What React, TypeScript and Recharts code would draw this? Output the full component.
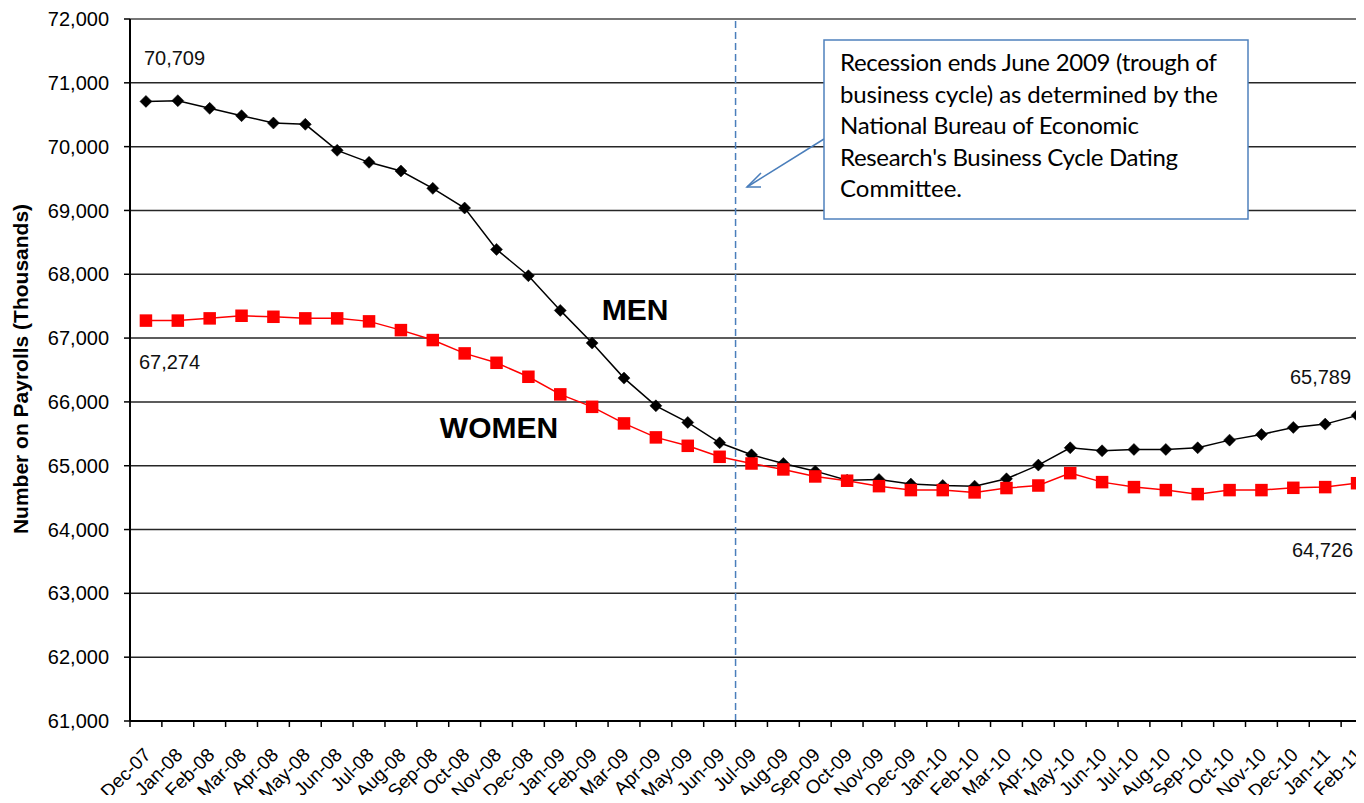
import React from 'react';
import { LineChart, Line, XAxis, YAxis, CartesianGrid, ReferenceLine, LabelList } from 'recharts';

const months = [
  'Dec-07','Jan-08','Feb-08','Mar-08','Apr-08','May-08','Jun-08','Jul-08','Aug-08','Sep-08','Oct-08','Nov-08',
  'Dec-08','Jan-09','Feb-09','Mar-09','Apr-09','May-09','Jun-09','Jul-09','Aug-09','Sep-09','Oct-09','Nov-09',
  'Dec-09','Jan-10','Feb-10','Mar-10','Apr-10','May-10','Jun-10','Jul-10','Aug-10','Sep-10','Oct-10','Nov-10',
  'Dec-10','Jan-11','Feb-11'
];

const men = [
  70709, 70720, 70600, 70485, 70370, 70350, 69942, 69754, 69618, 69346, 69038, 68390,
  67977, 67434, 66922, 66373, 65939, 65678, 65359, 65171, 65035, 64915, 64774, 64785,
  64712, 64690, 64680, 64795, 65010, 65281, 65234, 65255, 65255, 65281, 65401, 65490,
  65600, 65652, 65789
];

const women = [
  67274, 67274, 67309, 67350, 67334, 67309, 67309, 67262, 67125, 66969, 66760, 66613,
  66394, 66118, 65923, 65663, 65444, 65312, 65140, 65035, 64942, 64832, 64765, 64680,
  64618, 64618, 64582, 64650, 64690, 64884, 64743, 64665, 64618, 64555, 64618, 64618,
  64654, 64665, 64726
];

const yTicks = [61000, 62000, 63000, 64000, 65000, 66000, 67000, 68000, 69000, 70000, 71000, 72000];

const noteLines = [
  'Recession ends June 2009 (trough of',
  'business cycle) as determined by the',
  'National Bureau of Economic',
  "Research's Business Cycle Dating",
  'Committee.'
];
const noteWidths = [377, 378, 299, 338, 122];

const data = months.map((m, i) => ({ month: m, men: men[i], women: women[i] }));

const FONT = '"Liberation Sans", Arial, Helvetica, sans-serif';
const CHART_W = 1373;
const CHART_H = 803;
const YAXIS_W = 130;
const PLOT_W = CHART_W - YAXIS_W;
const HALF_BAND = PLOT_W / months.length / 2;

const fmt = (v: number) => v.toLocaleString('en-US');

const XTick = (props: any) => {
  const { x, y, payload } = props;
  const tx = x + 6;
  const ty = y + 35;
  return (
    <g>
      <line x1={x - HALF_BAND} x2={x - HALF_BAND} y1={y} y2={y + 6} stroke="#000" strokeWidth={1.5} />
      <text
        x={tx}
        y={ty}
        transform={`rotate(-45 ${tx} ${ty})`}
        textAnchor="end"
        fontSize={19}
        fontFamily={FONT}
        fill="#000"
      >
        {payload.value}
      </text>
    </g>
  );
};

const Diamond = (props: any) => {
  const { cx, cy } = props;
  if (cx == null || cy == null) return null;
  const r = 6;
  return <polygon points={`${cx},${cy - r} ${cx + r},${cy} ${cx},${cy + r} ${cx - r},${cy}`} fill="#000" stroke="#000" strokeWidth={0.5} />;
};

const Square = (props: any) => {
  const { cx, cy } = props;
  if (cx == null || cy == null) return null;
  const s = 12.5;
  return <rect x={cx - s / 2} y={cy - s / 2} width={s} height={s} fill="#FF0000" />;
};

const last = months.length - 1;

const MenLabel = (p: any) => {
  if (p.index === 0) {
    return (
      <text x={p.x - 2} y={p.y - 43} dy="0.35em" textAnchor="start" fontSize={20} fontFamily={FONT} fill="#111">
        {fmt(p.value)}
      </text>
    );
  }
  if (p.index === last) {
    return (
      <text x={p.x - 6} y={p.y - 38} dy="0.35em" textAnchor="end" fontSize={20} fontFamily={FONT} fill="#111">
        {fmt(p.value)}
      </text>
    );
  }
  return null;
};

const WomenLabel = (p: any) => {
  if (p.index === 0) {
    return (
      <text x={p.x - 7} y={p.y + 41} dy="0.35em" textAnchor="start" fontSize={20} fontFamily={FONT} fill="#111">
        {fmt(p.value)}
      </text>
    );
  }
  if (p.index === last) {
    return (
      <text x={p.x - 4} y={p.y + 67} dy="0.35em" textAnchor="end" fontSize={20} fontFamily={FONT} fill="#111">
        {fmt(p.value)}
      </text>
    );
  }
  return null;
};

export default function App() {
  return (
    <div style={{ position: 'relative', width: 1364, height: 803, margin: -8, overflow: 'hidden', background: '#fff' }}>
      <LineChart
        width={CHART_W}
        height={CHART_H}
        data={data}
        margin={{ top: 19, right: 0, bottom: 0, left: 0 }}
      >
        <CartesianGrid vertical={false} stroke="#262626" strokeWidth={1.5} />
        <ReferenceLine y={72000} stroke="#7f7f7f" strokeWidth={1.5} />
        <XAxis
          dataKey="month"
          scale="band"
          interval={0}
          height={82}
          tickSize={0}
          tickMargin={0}
          tickLine={false}
          axisLine={{ stroke: '#000', strokeWidth: 2 }}
          tick={<XTick />}
        />
        <YAxis
          width={YAXIS_W}
          domain={[61000, 72000]}
          ticks={yTicks}
          interval={0}
          tickFormatter={fmt}
          tickSize={6}
          tickMargin={15}
          axisLine={{ stroke: '#000', strokeWidth: 2 }}
          tickLine={{ stroke: '#000', strokeWidth: 1.5 }}
          tick={{ fontSize: 20, fill: '#000', fontFamily: FONT }}
        />
        <ReferenceLine x="Jul-09" position="start" stroke="#4A7EBB" strokeWidth={1.5} strokeDasharray="7 4" />
        <Line
          dataKey="men"
          stroke="#000"
          strokeWidth={1.5}
          dot={<Diamond />}
          activeDot={false}
          isAnimationActive={false}
        >
          <LabelList dataKey="men" content={<MenLabel />} />
        </Line>
        <Line
          dataKey="women"
          stroke="#FF0000"
          strokeWidth={1.5}
          dot={<Square />}
          activeDot={false}
          isAnimationActive={false}
        >
          <LabelList dataKey="women" content={<WomenLabel />} />
        </Line>
      </LineChart>
      <svg
        width={1364}
        height={803}
        style={{ position: 'absolute', left: 0, top: 0, pointerEvents: 'none' }}
      >
        <text
          transform="rotate(-90 28 369)"
          x={28}
          y={369}
          textAnchor="middle"
          fontSize={21}
          fontWeight="bold"
          fontFamily={FONT}
          fill="#000"
        >
          Number on Payrolls (Thousands)
        </text>
        <text x={635} y={320} textAnchor="middle" fontSize={30} fontWeight="bold" fontFamily={FONT} fill="#000">MEN</text>
        <text x={499} y={438} textAnchor="middle" fontSize={30} fontWeight="bold" fontFamily={FONT} fill="#000">WOMEN</text>
        <line x1={824} y1={139} x2={747} y2={187} stroke="#4A7EBB" strokeWidth={1.5} />
        <polyline points="761,187 747,187 761,173" fill="none" stroke="#4A7EBB" strokeWidth={1.5} />
        <rect x={824} y={40} width={424} height={179} fill="#fff" stroke="#4F81BD" strokeWidth={1.5} />
        {noteLines.map((t, i) => (
          <text
            key={i}
            x={840}
            y={71 + i * 31.5}
            fontSize={24}
            fontFamily='Lato, "Open Sans", sans-serif'
            fill="#000"
            textLength={noteWidths[i]}
            lengthAdjust="spacing"
          >
            {t}
          </text>
        ))}
      </svg>
    </div>
  );
}
